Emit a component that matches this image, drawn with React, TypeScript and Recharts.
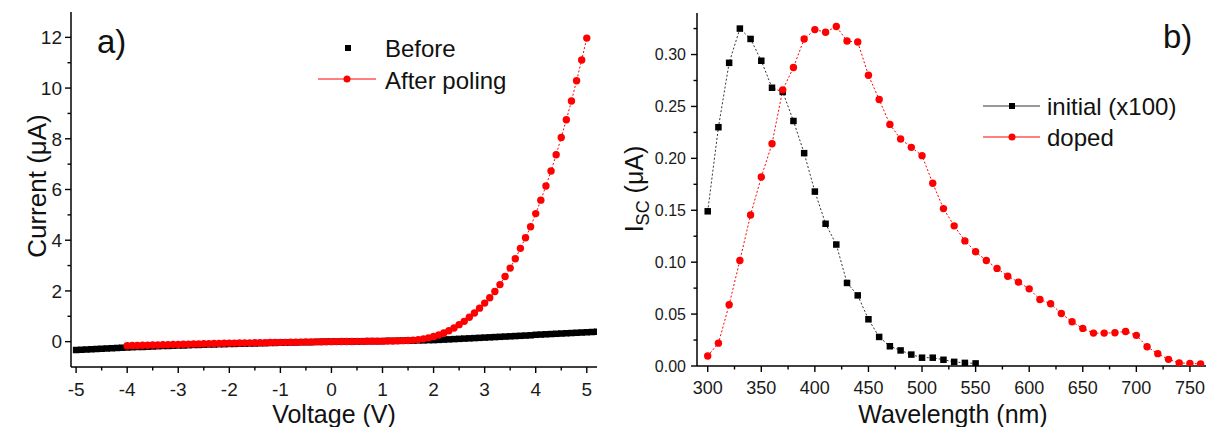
import { Line, LineChart, XAxis, YAxis } from "recharts"

const FONT = "'Liberation Sans', Arial, sans-serif"
const RED = "#ff0000"

// panel a) I-V curves, 0.1 V steps
const voltage = [
  -5.0, -4.9, -4.8, -4.7, -4.6, -4.5, -4.4, -4.3, -4.2, -4.1,
  -4.0, -3.9, -3.8, -3.7, -3.6, -3.5, -3.4, -3.3, -3.2, -3.1,
  -3.0, -2.9, -2.8, -2.7, -2.6, -2.5, -2.4, -2.3, -2.2, -2.1,
  -2.0, -1.9, -1.8, -1.7, -1.6, -1.5, -1.4, -1.3, -1.2, -1.1,
  -1.0, -0.9, -0.8, -0.7, -0.6, -0.5, -0.4, -0.3, -0.2, -0.1,
  0.0, 0.1, 0.2, 0.3, 0.4, 0.5, 0.6, 0.7, 0.8, 0.9,
  1.0, 1.1, 1.2, 1.3, 1.4, 1.5, 1.6, 1.7, 1.8, 1.9,
  2.0, 2.1, 2.2, 2.3, 2.4, 2.5, 2.6, 2.7, 2.8, 2.9,
  3.0, 3.1, 3.2, 3.3, 3.4, 3.5, 3.6, 3.7, 3.8, 3.9,
  4.0, 4.1, 4.2, 4.3, 4.4, 4.5, 4.6, 4.7, 4.8, 4.9,
  5.0, 5.1, 5.2,
]

const beforeCurrent = [
  -0.33, -0.32, -0.31, -0.30, -0.29, -0.28, -0.27, -0.26, -0.25, -0.24,
  -0.23, -0.22, -0.21, -0.21, -0.20, -0.19, -0.18, -0.17, -0.17, -0.16,
  -0.15, -0.15, -0.14, -0.13, -0.13, -0.12, -0.11, -0.11, -0.10, -0.10,
  -0.09, -0.09, -0.08, -0.08, -0.07, -0.07, -0.06, -0.06, -0.05, -0.05,
  -0.04, -0.04, -0.03, -0.03, -0.02, -0.02, -0.02, -0.01, -0.01, 0.0,
  0.0, 0.0, 0.0, 0.01, 0.01, 0.01, 0.01, 0.02, 0.02, 0.02,
  0.02, 0.03, 0.03, 0.03, 0.04, 0.04, 0.04, 0.05, 0.05, 0.06,
  0.06, 0.07, 0.08, 0.09, 0.10, 0.11, 0.12, 0.13, 0.14, 0.15,
  0.16, 0.17, 0.18, 0.19, 0.20, 0.21, 0.22, 0.23, 0.24, 0.25,
  0.27, 0.28, 0.29, 0.30, 0.31, 0.32, 0.33, 0.34, 0.35, 0.36,
  0.37, 0.38, 0.39,
]

const afterCurrent = [
  null, null, null, null, null, null, null, null, null, null,
  -0.16, -0.155, -0.15, -0.145, -0.14, -0.135, -0.13, -0.125, -0.12, -0.115,
  -0.11, -0.105, -0.1, -0.095, -0.09, -0.085, -0.08, -0.075, -0.07, -0.065,
  -0.06, -0.057, -0.054, -0.051, -0.048, -0.045, -0.042, -0.039, -0.036, -0.033,
  -0.03, -0.027, -0.024, -0.021, -0.018, -0.015, -0.012, -0.009, -0.006, -0.003,
  0.0, 0.002, 0.004, 0.006, 0.008, 0.01, 0.012, 0.014, 0.016, 0.018,
  0.02, 0.024, 0.028, 0.033, 0.04, 0.048, 0.06, 0.08, 0.11, 0.15,
  0.2, 0.26, 0.34, 0.43, 0.54, 0.67, 0.8, 0.96, 1.13, 1.32,
  1.52, 1.73, 1.98, 2.25, 2.57, 2.9, 3.27, 3.68, 4.1, 4.53,
  5.05, 5.58, 6.14, 6.73, 7.37, 8.05, 8.75, 9.49, 10.29, 11.11,
  11.97, null, null,
]

// panel b) short-circuit current spectra
const wavelength = [
  300, 310, 320, 330, 340, 350, 360, 370, 380, 390,
  400, 410, 420, 430, 440, 450, 460, 470, 480, 490,
  500, 510, 520, 530, 540, 550, 560, 570, 580, 590,
  600, 610, 620, 630, 640, 650, 660, 670, 680, 690,
  700, 710, 720, 730, 740, 750, 760,
]

const initialIsc = [
  0.149, 0.23, 0.292, 0.325, 0.315, 0.294, 0.268, 0.264, 0.236, 0.205,
  0.168, 0.137, 0.117, 0.08, 0.068, 0.045, 0.028, 0.019, 0.015, 0.011,
  0.008, 0.008, 0.006, 0.004, 0.003, 0.0025,
]

const dopedIsc = [
  0.0096, 0.022, 0.059, 0.1016, 0.1455, 0.182, 0.214, 0.266, 0.2875, 0.315,
  0.324, 0.3215, 0.327, 0.313, 0.312, 0.28, 0.2567, 0.2327, 0.2186, 0.2106,
  0.2026, 0.176, 0.1516, 0.135, 0.1205, 0.11, 0.1016, 0.094, 0.0865, 0.0808,
  0.0743, 0.064, 0.06, 0.0506, 0.0426, 0.0362, 0.0317, 0.0317, 0.032, 0.0333,
  0.0295, 0.0186, 0.0119, 0.0064, 0.003, 0.0025, 0.002,
]

const voltageMajor = [-5, -4, -3, -2, -1, 0, 1, 2, 3, 4, 5]
const voltageMinor = [-4.5, -3.5, -2.5, -1.5, -0.5, 0.5, 1.5, 2.5, 3.5, 4.5]
const currentMajor = [0, 2, 4, 6, 8, 10, 12]
const currentMinor = [1, 3, 5, 7, 9, 11]
const wlMajor = [300, 350, 400, 450, 500, 550, 600, 650, 700, 750]
const wlMinor = [325, 375, 425, 475, 525, 575, 625, 675, 725]
const iscMajor = [0, 0.05, 0.1, 0.15, 0.2, 0.25, 0.3]
const iscMinor = [0.025, 0.075, 0.125, 0.175, 0.225, 0.275, 0.325]

const ivData = voltage.map((v, i) => ({ v, before: beforeCurrent[i], after: afterCurrent[i] }))
const iscData = wavelength.map((wl, i) => ({ wl, initial: initialIsc[i] ?? null, doped: dopedIsc[i] }))

const TICK_SIZE = 6

const isMajor = (list: number[], v: number) => list.some((m) => Math.abs(m - v) < 1e-9)

function bottomTick(majors: number[], margin: number, fontSize: number, fmt: (v: number) => string) {
  return (p: any) => {
    const v = p.payload.value
    const major = isMajor(majors, v)
    const axisY = p.y - TICK_SIZE - margin
    return (
      <g>
        <line x1={p.x} x2={p.x} y1={axisY} y2={axisY + (major ? 6 : 3.5)} stroke="#000" strokeWidth={1.4} />
        {major && (
          <text x={p.x} y={p.y} dy="0.71em" textAnchor="middle" fontSize={fontSize} fontFamily={FONT} fill="#1a1a1a">
            {fmt(v)}
          </text>
        )}
      </g>
    )
  }
}

function leftTick(majors: number[], margin: number, fontSize: number, fmt: (v: number) => string) {
  return (p: any) => {
    const v = p.payload.value
    const major = isMajor(majors, v)
    const axisX = p.x + TICK_SIZE + margin
    return (
      <g>
        <line x1={axisX - (major ? 6 : 3.5)} x2={axisX} y1={p.y} y2={p.y} stroke="#000" strokeWidth={1.4} />
        {major && (
          <text x={p.x} y={p.y} dy="0.355em" textAnchor="end" fontSize={fontSize} fontFamily={FONT} fill="#1a1a1a">
            {fmt(v)}
          </text>
        )}
      </g>
    )
  }
}

const Square = (size: number, color: string) => (p: any) => {
  if (p.cx == null || p.cy == null || p.value == null) return <g key={p.key} />
  return <rect key={p.key} x={p.cx - size / 2} y={p.cy - size / 2} width={size} height={size} fill={color} />
}

const Dot = (r: number, color: string) => (p: any) => {
  if (p.cx == null || p.cy == null || p.value == null) return <g key={p.key} />
  return <circle key={p.key} cx={p.cx} cy={p.cy} r={r} fill={color} />
}

const axisLine = { stroke: "#000", strokeWidth: 1.5 }

export default function App() {
  return (
    <div style={{ position: "absolute", left: 0, top: 0, width: 1208, height: 427, background: "#fff", overflow: "hidden" }}>
      <div style={{ position: "absolute", left: 0, top: 0 }}>
        <LineChart width={610} height={427} data={ivData} margin={{ top: 12, right: 13, left: 21, bottom: 20 }}>
          <XAxis
            dataKey="v"
            type="number"
            domain={[-5.1, 5.2]}
            allowDataOverflow
            ticks={[...voltageMajor, ...voltageMinor].sort((a, b) => a - b)}
            interval={0}
            height={40}
            tickSize={TICK_SIZE}
            tickMargin={10}
            tickLine={false}
            axisLine={axisLine}
            tick={bottomTick(voltageMajor, 10, 19, (v) => String(v))}
          />
          <YAxis
            type="number"
            domain={[-1, 13]}
            allowDataOverflow
            ticks={[...currentMajor, ...currentMinor].sort((a, b) => a - b)}
            interval={0}
            width={50}
            tickSize={TICK_SIZE}
            tickMargin={3}
            tickLine={false}
            axisLine={axisLine}
            tick={leftTick(currentMajor, 3, 19, (v) => String(v))}
          />
          <Line
            dataKey="before"
            stroke="none"
            strokeWidth={0}
            dot={Square(6.5, "#000")}
            isAnimationActive={false}
          />
          <Line
            dataKey="after"
            stroke={RED}
            strokeWidth={1}
            strokeDasharray="2 2"
            dot={Dot(3.7, RED)}
            isAnimationActive={false}
          />
        </LineChart>
      </div>

      <div style={{ position: "absolute", left: 620, top: 0 }}>
        <LineChart width={588} height={427} data={iscData} margin={{ top: 13, right: 2, left: 27, bottom: 21 }}>
          <XAxis
            dataKey="wl"
            type="number"
            domain={[290, 765]}
            allowDataOverflow
            ticks={[...wlMajor, ...wlMinor].sort((a, b) => a - b)}
            interval={0}
            height={40}
            tickSize={TICK_SIZE}
            tickMargin={9}
            tickLine={false}
            axisLine={axisLine}
            tick={bottomTick(wlMajor, 9, 18, (v) => String(v))}
          />
          <YAxis
            type="number"
            domain={[0, 0.34]}
            allowDataOverflow
            ticks={[...iscMajor, ...iscMinor].sort((a, b) => a - b)}
            interval={0}
            width={50}
            tickSize={TICK_SIZE}
            tickMargin={5}
            tickLine={false}
            axisLine={axisLine}
            tick={leftTick(iscMajor, 5, 16, (v) => v.toFixed(2))}
          />
          <Line
            dataKey="initial"
            stroke="#333"
            strokeWidth={1}
            strokeDasharray="2 2"
            dot={Square(6.5, "#000")}
            isAnimationActive={false}
          />
          <Line
            dataKey="doped"
            stroke={RED}
            strokeWidth={1}
            strokeDasharray="2 2"
            dot={Dot(3.7, RED)}
            isAnimationActive={false}
          />
        </LineChart>
      </div>

      <svg
        width={1208}
        height={427}
        style={{ position: "absolute", left: 0, top: 0, pointerEvents: "none" }}
        fontFamily={FONT}
        fill="#111"
      >
        <text x={97} y={53} fontSize={33}>a)</text>
        <text x={1163} y={48} fontSize={33}>b)</text>

        <text transform="translate(46,186) rotate(-90)" textAnchor="middle" fontSize={26}>Current (μA)</text>
        <text x={334} y={423} textAnchor="middle" fontSize={25}>Voltage (V)</text>
        <text x={953} y={423} textAnchor="middle" fontSize={25}>Wavelength (nm)</text>
        <text transform="translate(643,189) rotate(-90)" textAnchor="middle" fontSize={25}>
          I<tspan fontSize={18} dy={6}>SC</tspan>
          <tspan dy={-6}> (μA)</tspan>
        </text>

        {/* legend a) */}
        <rect x={345} y={45} width={6} height={6} fill="#000" />
        <text x={385} y={48} dy="0.355em" fontSize={24}>Before</text>
        <line x1={318} x2={376} y1={79} y2={79} stroke={RED} strokeWidth={1} />
        <circle cx={347} cy={79} r={3.5} fill={RED} />
        <text x={385} y={80} dy="0.355em" fontSize={24}>After poling</text>

        {/* legend b) */}
        <line x1={983} x2={1040} y1={106} y2={106} stroke="#333" strokeWidth={1} />
        <rect x={1009} y={103} width={6} height={6} fill="#000" />
        <text x={1047} y={106} dy="0.355em" fontSize={24}>initial (x100)</text>
        <line x1={983} x2={1040} y1={137} y2={137} stroke={RED} strokeWidth={1} />
        <circle cx={1012} cy={137} r={3.5} fill={RED} />
        <text x={1047} y={137} dy="0.355em" fontSize={24}>doped</text>
      </svg>
    </div>
  )
}
